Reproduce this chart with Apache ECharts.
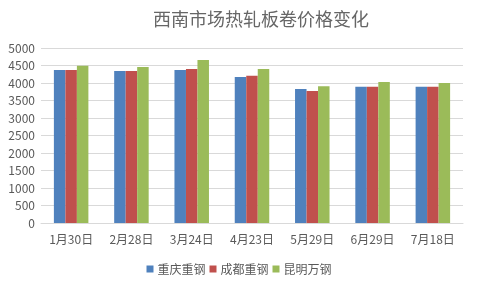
<!DOCTYPE html>
<html><head><meta charset="utf-8">
<script src="https://cdn.jsdelivr.net/npm/echarts@6/dist/echarts.min.js"></script>
<style>html,body{margin:0;padding:0;background:#fff}#c{width:478px;height:285px}</style>
</head><body><div id="c"></div>
<script>
const categories = ['1月30日','2月28日','3月24日','4月23日','5月29日','6月29日','7月18日'];
const chongqing = [4370, 4340, 4370, 4170, 3830, 3890, 3890];
const chengdu   = [4370, 4340, 4400, 4210, 3770, 3890, 3890];
const kunming   = [4490, 4460, 4660, 4400, 3910, 4030, 4000];
const seriesNames = ['重庆重钢','成都重钢','昆明万钢'];
const colors = ['#4f81bd','#c0504d','#9bbb59'];
const font = '"Noto Sans CJK SC", "Microsoft YaHei", sans-serif';
const chart = echarts.init(document.getElementById('c'));
const datas = [chongqing, chengdu, kunming];
chart.setOption({
  animation: false,
  title: { text: '西南市场热轧板卷价格变化', left: 256, textAlign: 'center', top: 5,
    textStyle: { fontFamily: font, fontSize: 18, fontWeight: 'normal', color: '#666666' } },
  grid: { left: 41, right: 15, top: 48, bottom: 62 },
  legend: { top: 258, left: 'center', itemWidth: 7, itemHeight: 7, itemGap: 4,
    textStyle: { fontFamily: font, fontSize: 12, color: '#595959', padding: [0,0,0,-1] },
    data: seriesNames.map((n,i)=>({name:n, icon:'rect'})) },
  xAxis: { type: 'category', data: categories,
    axisLine: { lineStyle: { color: '#d9d9d9' } }, axisTick: { show: false },
    axisLabel: { fontFamily: font, fontSize: 12, color: '#595959', margin: 10 } },
  yAxis: { type: 'value', min: 0, max: 5000, interval: 500,
    axisLine: { show: false }, axisTick: { show: false },
    splitLine: { lineStyle: { color: '#d9d9d9' } },
    axisLabel: { fontFamily: font, fontSize: 12, color: '#595959', margin: 6,
      formatter: v => String(v) } },
  series: seriesNames.map((n,i)=>({ name: n, type: 'bar', data: datas[i], barWidth: 11.5,
    barGap: '0%', itemStyle: { color: colors[i] } }))
});
</script></body></html>
